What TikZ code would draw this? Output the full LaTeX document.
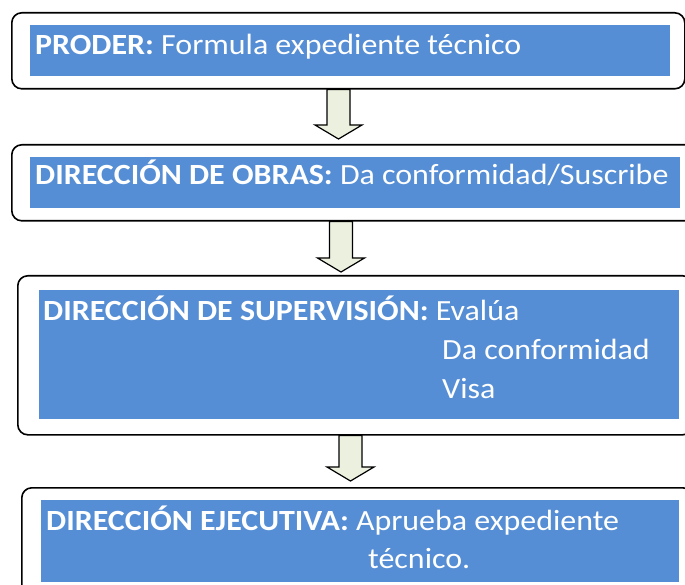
\documentclass[tikz,border=0pt]{standalone}
\usepackage{fontspec}
\setmainfont{Carlito}[FakeStretch=1.09]
\usetikzlibrary{calc}

\definecolor{azul}{HTML}{558ED5}
\definecolor{verdeclaro}{HTML}{EBF1DE}

\tikzset{
  caja/.style={draw, line width=1.6pt, rounded corners=10pt, anchor=north west, inner sep=0pt},
  fondo/.style={fill=azul, anchor=north west, inner sep=0pt},
  texto/.style={text=white, anchor=base west, inner sep=0pt},
  flecha/.style={draw, line width=1.2pt, fill=verdeclaro, line join=miter}
}

% block arrow pointing down, from #1 to #2
\newcommand{\flechabaja}[2]{%
  \draw[flecha] ($(#1)+(-11.5,0)$) -- ($(#2)+(-11.5,-14)$) -- ($(#2)+(-23.5,-14)$)
    -- (#2) -- ($(#2)+(23.5,-14)$) -- ($(#2)+(11.5,-14)$) -- ($(#1)+(11.5,0)$) -- cycle;}

\begin{document}
\begin{tikzpicture}[x=1pt, y=-1pt, font=\fontsize{29.3pt}{35pt}\selectfont]

\clip (0,0) rectangle (685,585);

% PRODER
\node[caja, minimum width=673pt, minimum height=76pt] (proder) at (11,12) {};
\node[fondo, minimum width=640pt, minimum height=51pt] (proder-fondo) at (30,25) {};
\node[texto] (proder-txt) at (35,55) {\textbf{PRODER:} Formula expediente técnico};

% DIRECCION DE OBRAS
\node[caja, minimum width=690pt, minimum height=76pt] (obras) at (11,144) {};
\node[fondo, minimum width=650pt, minimum height=51pt] (obras-fondo) at (30,157) {};
\node[texto] (obras-txt) at (35,185) {\textbf{DIRECCIÓN DE OBRAS:} Da conformidad/Suscribe};

% DIRECCION DE SUPERVISION
\node[caja, minimum width=675pt, minimum height=159pt] (superv) at (17,275) {};
\node[fondo, minimum width=640pt, minimum height=129pt] (superv-fondo) at (39,290) {};
\node[texto] (superv-txt) at (43,320) {\textbf{DIRECCIÓN DE SUPERVISIÓN:} Evalúa};
\node[texto] (superv-txt2) at (442,359) {Da conformidad};
\node[texto] (superv-txt3) at (442,398) {Visa};

% DIRECCION EJECUTIVA
\node[caja, minimum width=671pt, minimum height=120pt] (ejec) at (21,487) {};
\node[fondo, minimum width=638pt, minimum height=82pt] (ejec-fondo) at (41,500) {};
\node[texto] (ejec-txt) at (46,530) {\textbf{DIRECCIÓN EJECUTIVA:} Aprueba expediente};
\node[texto] (ejec-txt2) at (368,568) {técnico.};

% Arrows
\coordinate (f1a) at (proder.south -| 338.5,0);
\coordinate (f1b) at (338.5,139);
\flechabaja{f1a}{f1b}

\coordinate (f2a) at (obras.south -| 341,0);
\coordinate (f2b) at (341,272);
\flechabaja{f2a}{f2b}

\coordinate (f3a) at (superv.south -| 350.5,0);
\coordinate (f3b) at (350.5,481);
\flechabaja{f3a}{f3b}

\end{tikzpicture}
\end{document}
